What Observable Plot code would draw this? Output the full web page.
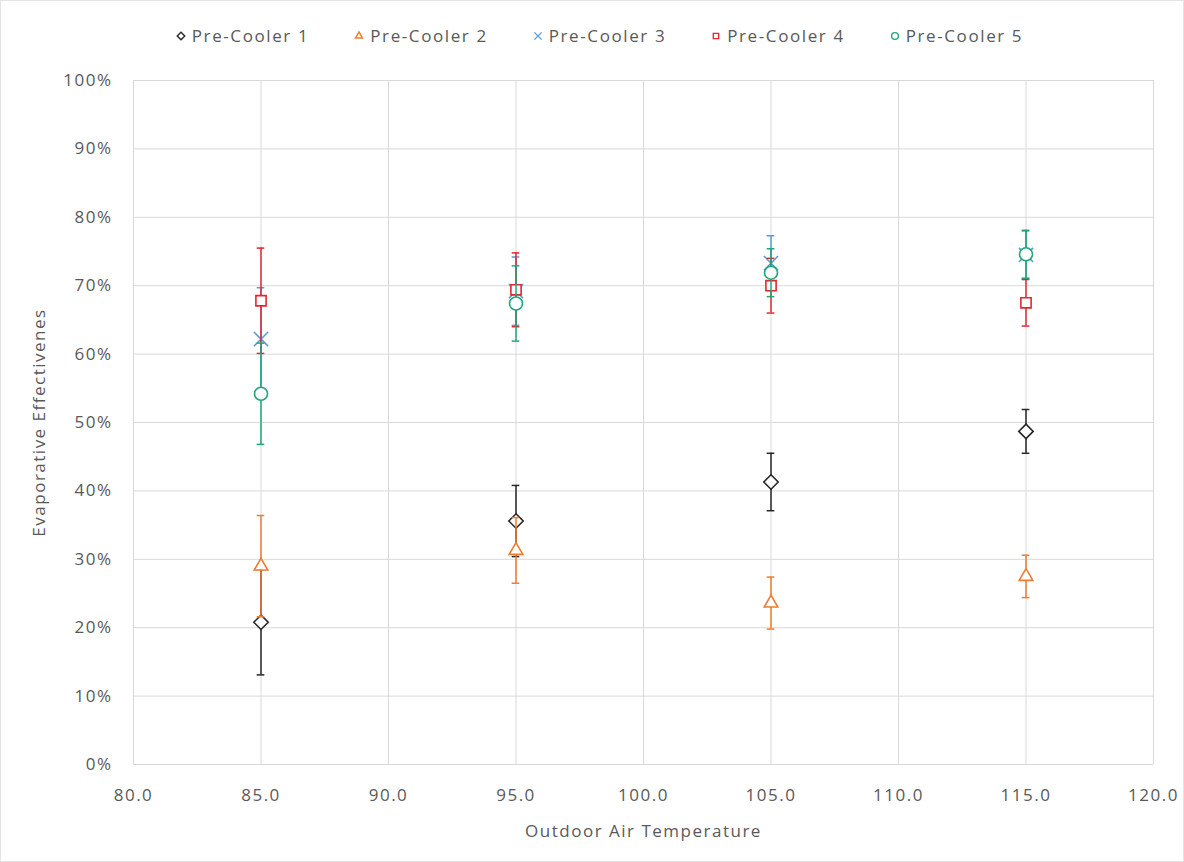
<!DOCTYPE html>
<html>
<head>
<meta charset="utf-8">
<script src="https://cdn.jsdelivr.net/npm/d3@7"></script>
<script src="https://cdn.jsdelivr.net/npm/@observablehq/plot@0.6"></script>
<style>
  html, body { margin: 0; padding: 0; background: #fff; }
  #chart { position: relative; width: 1184px; height: 862px; box-sizing: border-box; border: 1px solid #e3e3e3; font-family: "Open Sans", sans-serif; color: #595959; }
  #legend { height: 58px; display: flex; justify-content: center; align-items: center; gap: 44px; font-size: 17px; letter-spacing: 1.6px; padding-left: 14px; padding-top: 11px; box-sizing: border-box; }
  #legend .item { display: flex; align-items: center; gap: 5px; }
  #plot svg text { letter-spacing: 1.5px; }
</style>
</head>
<body>
<div id="chart">
  <div id="legend"></div>
  <div id="plot"></div>
</div>
<script>
// ---- data ----
const temps = [85, 95, 105, 115];
const seriesNames = ["Pre-Cooler 1", "Pre-Cooler 2", "Pre-Cooler 3", "Pre-Cooler 4", "Pre-Cooler 5"];
const pc1 = [20.8, 35.6, 41.3, 48.7];
const pc2 = [29.0, 31.3, 23.6, 27.5];
const pc3 = [62.2, 69.2, 73.3, 74.5];
const pc4 = [67.8, 69.4, 70.0, 67.5];
const pc5 = [54.2, 67.4, 71.9, 74.6];
const err1 = [7.7, 5.2, 4.2, 3.2];
const err2 = [7.4, 4.8, 3.8, 3.1];
const err3 = [7.5, 5.0, 4.0, 3.5];
const err4 = [7.7, 5.4, 4.0, 3.4];
const err5 = [7.4, 5.5, 3.5, 3.5];
const xTicks = [80, 85, 90, 95, 100, 105, 110, 115, 120];
const yTicks = [0, 0.1, 0.2, 0.3, 0.4, 0.5, 0.6, 0.7, 0.8, 0.9, 1.0];

// ---- styles ----
const colors = ["#262626", "#ED7D31", "#5B9BD5", "#E0282E", "#1FA67A"];
const symbols = ["diamond2", "triangle2", "times", "square2", "circle"];
const d3Symbols = [d3.symbolDiamond2, d3.symbolTriangle2, d3.symbolTimes, d3.symbolSquare2, d3.symbolCircle];

const allVals = [pc1, pc2, pc3, pc4, pc5];
const allErrs = [err1, err2, err3, err4, err5];

const seriesRows = allVals.map((vals, i) => temps.map((t, j) => ({
  series: seriesNames[i], x: t, y: vals[j] / 100, e: allErrs[i][j] / 100
})));

// legend
const legend = document.getElementById("legend");
seriesNames.forEach((name, i) => {
  const item = document.createElement("div");
  item.className = "item";
  const svg = d3.create("svg").attr("width", 12).attr("height", 12);
  svg.append("path")
    .attr("transform", "translate(6,6)")
    .attr("d", d3.symbol(d3Symbols[i], 36)())
    .attr("fill", "white")
    .attr("stroke", colors[i])
    .attr("stroke-width", 1.4);
  item.appendChild(svg.node());
  const span = document.createElement("span");
  span.textContent = name;
  item.appendChild(span);
  legend.appendChild(item);
});

const cap = 0.15;
const marks = [
  Plot.gridY(yTicks, {stroke: "#d9d9d9", strokeOpacity: 1}),
  Plot.gridX(xTicks, {stroke: "#d9d9d9", strokeOpacity: 1}),
  Plot.axisY(yTicks, {tickSize: 0, tickPadding: 21, tickFormat: d3.format(".0%"), label: "Evaporative Effectivenes", labelAnchor: "center", labelArrow: "none", labelOffset: 101, fontSize: 17}),
  Plot.axisX(xTicks, {tickSize: 0, tickPadding: 24, tickFormat: d => d.toFixed(1), label: "Outdoor Air Temperature", labelAnchor: "center", labelOffset: 72, labelArrow: "none", fontSize: 17})
];
seriesRows.forEach((rows, i) => {
  marks.push(
    Plot.ruleX(rows, {x: "x", y1: d => d.y - d.e, y2: d => d.y + d.e, stroke: colors[i], strokeWidth: 1.5}),
    Plot.ruleY(rows, {y: d => d.y + d.e, x1: d => d.x - cap, x2: d => d.x + cap, stroke: colors[i], strokeWidth: 1.5}),
    Plot.ruleY(rows, {y: d => d.y - d.e, x1: d => d.x - cap, x2: d => d.x + cap, stroke: colors[i], strokeWidth: 1.5}),
    Plot.dot(rows, {x: "x", y: "y", symbol: () => symbols[i], r: 6.5, stroke: colors[i], fill: "white", strokeWidth: 1.6})
  );
});

const chart = Plot.plot({
  width: 1182,
  height: 802,
  marginTop: 21,
  marginBottom: 97,
  marginLeft: 132,
  marginRight: 30,
  style: {fontFamily: "'Open Sans', sans-serif", fontSize: "17px", color: "#595959", background: "white"},
  x: {domain: [80, 120]},
  y: {domain: [0, 1]},
  symbol: {type: "identity"},
  marks
});
document.getElementById("plot").appendChild(chart);
</script>
</body>
</html>
